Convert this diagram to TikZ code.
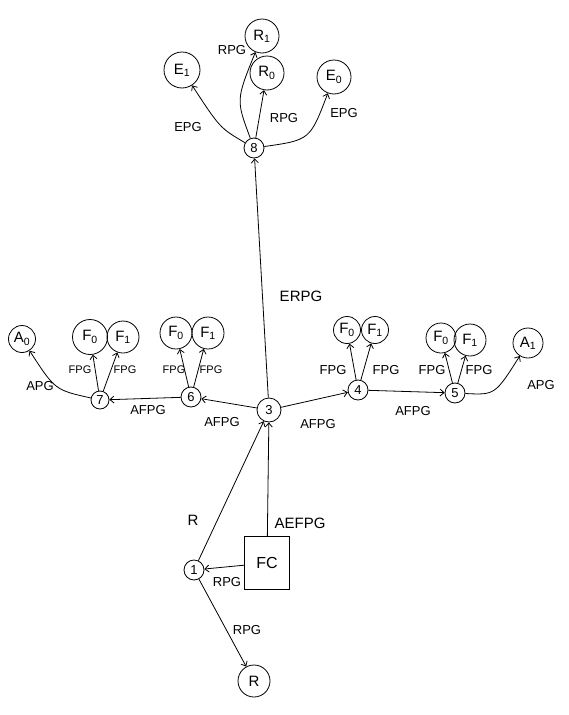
\documentclass[tikz,border=0pt]{standalone}
\usepackage{fontspec}
\setmainfont{Liberation Sans}
\usetikzlibrary{arrows.meta}

\begin{document}
\begin{tikzpicture}[
  x=1pt, y=-1pt,
  state/.style={circle, draw, line width=0.8pt, minimum size=20pt, inner sep=0pt,
                font=\fontsize{13}{15}\selectfont},
  leaf/.style={circle, draw, line width=0.8pt, minimum size=34pt, inner sep=0pt,
               font=\fontsize{15}{17}\selectfont},
  lbl/.style={font=\fontsize{13}{15}\selectfont, inner sep=1pt},
  arrow/.style={-{Straight Barb[length=4pt,width=7pt]}, line width=0.8pt}
]
\useasboundingbox (0,0) rectangle (568,715);
% top cluster
\node[leaf] (r1) at (262,36) {R\textsubscript{1}};
\node[leaf] (r0) at (267,73) {R\textsubscript{0}};
\node[leaf, minimum size=36pt] (e1) at (182,70) {E\textsubscript{1}};
\node[leaf] (e0) at (334,77) {E\textsubscript{0}};
\node[state] (n8) at (254,148) {8};
% spine
\node[state, minimum size=24pt] (n3) at (269,410) {3};
\node[state] (n6) at (191,397) {6};
\node[state, minimum size=18pt] (n7) at (100,400) {7};
\node[state] (n4) at (358,390) {4};
\node[state] (n5) at (455,393) {5};
% leaves of the spine
\node[leaf, minimum size=27pt] (a0) at (22,339) {A\textsubscript{0}};
\node[leaf, minimum size=35pt] (f07) at (90,337) {F\textsubscript{0}};
\node[leaf, minimum size=32pt] (f17) at (123,337) {F\textsubscript{1}};
\node[leaf, minimum size=32pt] (f06) at (176,333) {F\textsubscript{0}};
\node[leaf, minimum size=32pt] (f16) at (208,333) {F\textsubscript{1}};
\node[leaf, minimum size=27pt] (f04) at (347,330) {F\textsubscript{0}};
\node[leaf, minimum size=27pt] (f14) at (375,330) {F\textsubscript{1}};
\node[leaf, minimum size=30pt] (f05) at (441,338) {F\textsubscript{0}};
\node[leaf, minimum size=32pt] (f15) at (470,340) {F\textsubscript{1}};
\node[leaf, minimum size=30pt] (a1) at (528,343) {A\textsubscript{1}};
% bottom
\node[state] (n1) at (194,570) {1};
\node[draw, line width=0.8pt, minimum width=45pt, minimum height=53pt,
      font=\fontsize{16}{18}\selectfont] (fc) at (267,563) {FC};
\node[leaf, minimum size=32pt] (r) at (254,681) {R};
% edges from 8
\draw[arrow] (n8) .. controls (236,100) .. (r1);
\draw[arrow] (n8) -- (r0);
\draw[arrow] (n8) .. controls (220,128) .. (e1);
\draw[arrow] (n8) .. controls (310,140) .. (e0);
\draw[arrow] (n3) -- (n8);
% left branch
\draw[arrow] (n3) -- (n6);
\draw[arrow] (n6) -- (n7);
\draw[arrow] (n7) .. controls (55,390) .. (a0);
\draw[arrow] (n7) -- (f07);
\draw[arrow] (n7) -- (f17);
\draw[arrow] (n6) -- (f06);
\draw[arrow] (n6) -- (f16);
% right branch
\draw[arrow] (n3) -- (n4);
\draw[arrow] (n4) -- (n5);
\draw[arrow] (n5) .. controls (495,395) .. (a1);
\draw[arrow] (n4) -- (f04);
\draw[arrow] (n4) -- (f14);
\draw[arrow] (n5) -- (f05);
\draw[arrow] (n5) -- (f15);
% bottom
\draw[arrow] (n1) -- (n3);
\draw[arrow] (fc) -- (n3);
\draw[arrow] (fc) -- (n1);
\draw[arrow] (n1) -- (r);
% labels
\node[lbl] (l1) at (232,50) {RPG};
\node[lbl] (l2) at (284,118) {RPG};
\node[lbl] (l3) at (188,127) {EPG};
\node[lbl] (l4) at (344,113) {EPG};
\node[lbl, font=\fontsize{15}{17}\selectfont] (l5) at (301,296) {ERPG};
\node[lbl] (l6) at (40,386) {APG};
\node[lbl, font=\fontsize{11}{13}\selectfont] (l7) at (80,370) {FPG};
\node[lbl, font=\fontsize{11}{13}\selectfont] (l8) at (125,370) {FPG};
\node[lbl, font=\fontsize{11}{13}\selectfont] (l9) at (174,370) {FPG};
\node[lbl, font=\fontsize{11}{13}\selectfont] (l10) at (211,370) {FPG};
\node[lbl] (l11) at (148,410) {AFPG};
\node[lbl] (l12) at (222,422) {AFPG};
\node[lbl] (l13) at (318,424) {AFPG};
\node[lbl] (l14) at (333,370) {FPG};
\node[lbl] (l15) at (386,370) {FPG};
\node[lbl] (l16) at (413,411) {AFPG};
\node[lbl] (l17) at (432,370) {FPG};
\node[lbl] (l18) at (479,370) {FPG};
\node[lbl] (l19) at (541,385) {APG};
\node[lbl, font=\fontsize{15}{17}\selectfont] (l20) at (193,520) {R};
\node[lbl, font=\fontsize{15}{17}\selectfont] (l21) at (300,523) {AEFPG};
\node[lbl] (l22) at (227,582) {RPG};
\node[lbl] (l23) at (247,630) {RPG};
\end{tikzpicture}
\end{document}
